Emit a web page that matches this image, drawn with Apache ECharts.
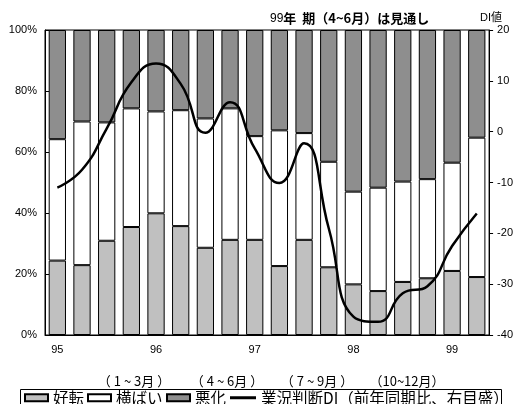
<!DOCTYPE html>
<html><head><meta charset="utf-8">
<script src="https://cdn.jsdelivr.net/npm/echarts@6/dist/echarts.min.js"></script>
<style>html,body{margin:0;padding:0;background:#fff}#c{width:516px;height:404px}</style>
</head><body><div id="c"></div>
<script>
var categories = ['95Q1','95Q2','95Q3','95Q4','96Q1','96Q2','96Q3','96Q4','97Q1','97Q2','97Q3','97Q4','98Q1','98Q2','98Q3','98Q4','99Q1','99Q2'];
var yearLabels = {'95Q1':'95','96Q1':'96','97Q1':'97','98Q1':'98','99Q1':'99'};
var kouten = [24.4, 22.9, 30.9, 35.4, 39.9, 35.7, 28.6, 31.2, 31.2, 22.6, 31.2, 22.2, 16.6, 14.4, 17.4, 18.6, 21.0, 19.0];
var yokobai = [39.8, 47.1, 38.8, 38.9, 33.4, 38.0, 42.4, 43.1, 34.0, 44.5, 35.0, 34.6, 30.4, 33.9, 32.9, 32.5, 35.5, 45.7];
var akka = [35.8, 30.0, 30.3, 25.7, 26.7, 26.3, 29.0, 25.7, 34.8, 32.9, 33.8, 43.2, 53.0, 51.7, 49.7, 48.9, 43.5, 35.3];
var di = [-11.0, -7.5, 0.6, 9.7, 13.4, 9.4, -0.2, 5.8, -3.3, -10.1, -2.3, -19.0, -36.4, -37.4, -31.8, -30.4, -22.5, -16.1];
var quarterLabels = ['（ 1 ~ 3月 ）','（ 4 ~ 6月 ）','（ 7 ~ 9月 ）','（10~12月）'];
var leftTicks = [0, 20, 40, 60, 80, 100];
var rightTicks = [-40, -30, -20, -10, 0, 10, 20];

var FONT = '"Liberation Sans", "Noto Sans CJK JP", sans-serif';
var JFONT = '"Noto Sans CJK JP", "Liberation Sans", sans-serif';
var chart = echarts.init(document.getElementById('c'), null, {renderer:'canvas'});
var barBase = {type:'bar', stack:'s', barCategoryGap:'30%', emphasis:{disabled:true}};
var legendText = {fontSize:15.5, fontFamily:JFONT, color:'#000'};
function leg(name, left, w, h, extra){
  return Object.assign({data:[name], left:left, top:390, itemWidth:w, itemHeight:h, icon:'rect', textStyle:legendText, itemGap:0, padding:0, selectedMode:false}, extra||{});
}
var qCenters = [134, 227, 317, 407];
var graphics = [
  {type:'rect', shape:{x:20.5, y:389.5, width:481, height:30}, style:{fill:'none', stroke:'#000', lineWidth:1}},
  {type:'text', left:270, top:12, style:{text:'{a|99}{b|年  期（4~6月）は見通し}', rich:{a:{fontSize:12, fontFamily:FONT, fill:'#000'}, b:{fontSize:13, fontWeight:'bold', fontFamily:JFONT, fill:'#000'}}}},
  {type:'text', left:480, top:12, style:{text:'DI値', fontSize:11, fontFamily:FONT, fill:'#000'}}
];
quarterLabels.forEach(function(t, i){
  graphics.push({type:'text', x:qCenters[i], y:381, style:{text:t, fontSize:13, fontFamily:JFONT, fill:'#000', align:'center', verticalAlign:'middle'}});
});
chart.setOption({
  animation:false,
  grid:{left:45, right:26, top:30, bottom:69, show:true, borderColor:'#000', borderWidth:1, backgroundColor:'transparent'},
  legend:[
    leg('好転', 24, 23, 7),
    leg('横ばい', 87, 23, 7),
    leg('悪化', 166, 23, 7),
    leg('業況判断DI（前年同期比、右目盛）', 230, 26, 3, {itemStyle:{color:'#000'}})
  ],
  xAxis:{type:'category', data:categories,
    axisLine:{lineStyle:{color:'#000', width:1}},
    axisTick:{inside:true, length:3, lineStyle:{color:'#000'}},
    axisLabel:{interval:0, margin:9, fontSize:11, fontFamily:FONT, color:'#000', formatter:function(v){return yearLabels[v]||'';}}
  },
  yAxis:[
    {type:'value', min:leftTicks[0], max:leftTicks[leftTicks.length-1], interval:20, position:'left',
     axisLine:{show:true, lineStyle:{color:'#000'}}, axisTick:{show:true, inside:true, length:4, lineStyle:{color:'#000'}},
     splitLine:{show:false}, axisLabel:{margin:8, fontSize:11, fontFamily:FONT, color:'#000', formatter:'{value}%'}},
    {type:'value', min:rightTicks[0], max:rightTicks[rightTicks.length-1], interval:10, position:'right',
     axisLine:{show:true, lineStyle:{color:'#000'}}, axisTick:{show:true, length:4, lineStyle:{color:'#000'}},
     splitLine:{show:false}, axisLabel:{margin:8, fontSize:11, fontFamily:FONT, color:'#000'}}
  ],
  series:[
    Object.assign({}, barBase, {name:'好転', data:kouten, itemStyle:{color:'#c0c0c0', borderColor:'#000', borderWidth:1}}),
    Object.assign({}, barBase, {name:'横ばい', data:yokobai, itemStyle:{color:'#ffffff', borderColor:'#000', borderWidth:1}}),
    Object.assign({}, barBase, {name:'悪化', data:akka, itemStyle:{color:'#8e8e8e', borderColor:'#000', borderWidth:1}}),
    {type:'line', name:'業況判断DI（前年同期比、右目盛）', yAxisIndex:1, data:di, smooth:0.5, symbol:'none', z:5,
     lineStyle:{color:'#000', width:2.5}, itemStyle:{color:'#000'}, emphasis:{disabled:true}}
  ],
  graphic:graphics
});
</script></body></html>
